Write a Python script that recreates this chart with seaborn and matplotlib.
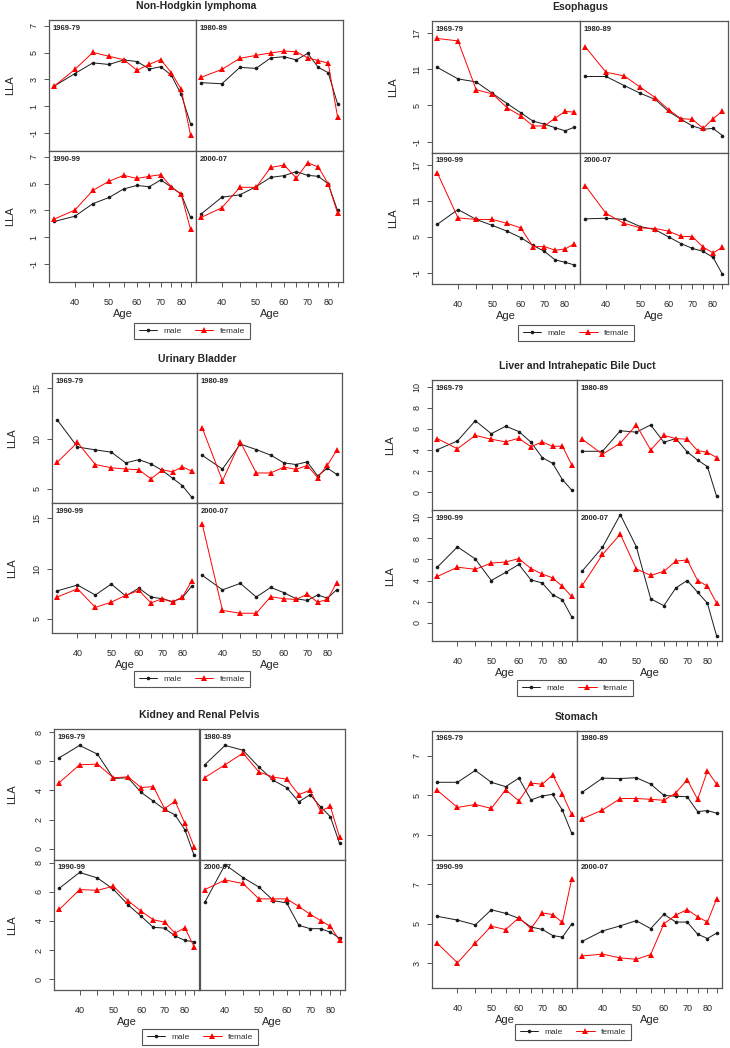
import matplotlib
matplotlib.use('Agg')
import matplotlib.pyplot as plt
from matplotlib.lines import Line2D
import seaborn as sns

sns.set_style('white')
plt.rcParams['font.family'] = ['Liberation Sans', 'DejaVu Sans']

# Age groups (plotted on a log axis) and periods
ages = [35, 40, 45, 50, 55, 60, 65, 70, 75, 80, 85]
age_ticks = [40, 45, 50, 55, 60, 65, 70, 75, 80, 85]
age_labels = ['40', '', '50', '', '60', '', '70', '', '80', '']
periods = ['1969-79', '1980-89', '1990-99', '2000-07']

# LLA values, one row per period
nhl_male = [
    [2.51, 3.44, 4.24, 4.12, 4.46, 4.34, 3.78, 3.95, 3.32, 1.88, -0.29],
    [2.76, 2.68, 3.90, 3.83, 4.61, 4.70, 4.46, 4.95, 3.90, 3.51, 1.19],
    [2.18, 2.57, 3.51, 3.97, 4.61, 4.87, 4.77, 5.28, 4.75, 4.22, 2.49],
    [2.75, 3.99, 4.17, 4.78, 5.47, 5.60, 5.90, 5.62, 5.55, 4.99, 3.00],
]
nhl_female = [
    [2.51, 3.75, 5.02, 4.73, 4.48, 3.68, 4.14, 4.48, 3.51, 2.27, -1.15],
    [3.17, 3.75, 4.58, 4.80, 4.98, 5.12, 5.07, 4.61, 4.41, 4.22, 0.22],
    [2.36, 3.03, 4.50, 5.19, 5.62, 5.39, 5.55, 5.67, 4.75, 4.20, 1.59],
    [2.49, 3.20, 4.73, 4.73, 6.21, 6.39, 5.42, 6.57, 6.24, 4.99, 2.82],
]

esoph_male = [
    [11.3, 9.4, 8.9, 7.0, 5.3, 3.8, 2.4, 1.9, 1.3, 0.8, 1.4],
    [9.8, 9.8, 8.3, 7.0, 6.0, 4.0, 2.7, 1.6, 1.05, 1.2, 0.0],
    [7.1, 9.55, 7.9, 6.9, 5.95, 4.9, 3.6, 2.6, 1.2, 0.8, 0.35],
    [8.0, 8.1, 7.9, 6.7, 6.2, 5.0, 3.9, 3.1, 2.6, 1.6, -1.2],
]
esoph_female = [
    [16.1, 15.7, 7.6, 6.9, 4.6, 3.3, 1.6, 1.6, 2.9, 4.0, 3.9],
    [14.7, 10.5, 9.9, 8.0, 6.3, 4.3, 2.8, 2.7, 1.2, 2.8, 4.1],
    [15.6, 8.15, 7.9, 7.9, 7.25, 6.5, 3.4, 3.4, 2.8, 3.0, 3.9],
    [13.5, 8.9, 7.25, 6.5, 6.4, 5.95, 5.1, 5.05, 3.3, 2.35, 3.3],
]

bladder_male = [
    [11.84, 9.16, 8.87, 8.65, 7.58, 7.90, 7.48, 6.84, 6.06, 5.32, 4.19],
    [8.32, 6.97, 9.45, 8.90, 8.35, 7.58, 7.42, 7.68, 6.29, 7.06, 6.45],
    [7.78, 8.36, 7.37, 8.46, 7.27, 8.05, 7.17, 7.00, 6.72, 7.10, 8.23],
    [9.32, 7.88, 8.53, 7.17, 8.12, 7.61, 7.00, 6.83, 7.37, 7.06, 7.88],
]
bladder_female = [
    [7.65, 9.61, 7.42, 7.10, 6.97, 6.90, 6.00, 6.87, 6.71, 7.19, 6.77],
    [11.03, 5.81, 9.68, 6.58, 6.58, 7.16, 6.94, 7.32, 6.13, 7.35, 8.81],
    [7.17, 7.99, 6.14, 6.66, 7.34, 7.82, 6.59, 7.00, 6.66, 7.17, 8.74],
    [14.39, 5.84, 5.56, 5.56, 7.20, 7.00, 6.93, 7.44, 6.66, 6.93, 8.57],
]

liver_male = [
    [4.03, 4.86, 6.77, 5.54, 6.25, 5.75, 4.74, 3.29, 2.74, 1.20, 0.22],
    [3.88, 3.88, 5.82, 5.69, 6.37, 4.74, 5.08, 3.82, 3.05, 2.43, -0.37],
    [5.26, 7.18, 6.04, 4.00, 4.77, 5.52, 4.06, 3.77, 2.66, 2.18, 0.58],
    [4.90, 7.14, 10.23, 7.21, 2.27, 1.62, 3.31, 4.00, 2.89, 1.85, -1.23],
]
liver_female = [
    [5.08, 4.12, 5.38, 5.02, 4.77, 5.11, 4.31, 4.77, 4.34, 4.37, 2.62],
    [5.02, 3.60, 4.65, 6.37, 4.00, 5.38, 5.08, 5.02, 3.94, 3.78, 3.29],
    [4.38, 5.26, 5.06, 5.65, 5.75, 6.07, 5.13, 4.61, 4.25, 3.44, 2.50],
    [3.54, 6.46, 8.38, 5.10, 4.48, 4.87, 5.84, 5.94, 4.00, 3.47, 1.88],
]

kidney_male = [
    [6.25, 7.10, 6.50, 4.83, 4.87, 3.87, 3.26, 2.70, 2.32, 1.30, -0.45],
    [5.77, 7.10, 6.77, 5.61, 4.69, 4.20, 3.22, 3.71, 2.88, 2.19, 0.36],
    [6.25, 7.34, 6.96, 6.18, 5.12, 4.32, 3.56, 3.51, 2.97, 2.66, 2.57],
    [5.28, 7.88, 6.99, 6.33, 5.40, 5.24, 3.70, 3.47, 3.47, 3.23, 2.81],
]
kidney_female = [
    [4.54, 5.77, 5.81, 4.87, 4.94, 4.20, 4.27, 2.75, 3.26, 1.74, 0.13],
    [4.89, 5.77, 6.57, 5.27, 4.92, 4.78, 3.71, 4.02, 2.59, 2.90, 0.80],
    [4.79, 6.16, 6.11, 6.39, 5.40, 4.67, 4.08, 3.92, 3.16, 3.54, 2.22],
    [6.16, 6.82, 6.58, 5.52, 5.52, 5.52, 5.00, 4.46, 4.03, 3.63, 2.66],
]

stomach_male = [
    [5.66, 5.66, 6.26, 5.66, 5.44, 5.87, 4.77, 4.97, 5.05, 4.25, 3.10],
    [5.16, 5.87, 5.85, 5.89, 5.57, 5.00, 4.95, 4.93, 4.18, 4.23, 4.10],
    [5.38, 5.19, 4.95, 5.71, 5.53, 5.28, 4.84, 4.72, 4.41, 4.33, 4.98],
    [4.12, 4.64, 4.90, 5.16, 4.76, 5.48, 5.09, 5.09, 4.48, 4.26, 4.53],
]
stomach_female = [
    [5.25, 4.39, 4.54, 4.34, 5.28, 4.72, 5.62, 5.56, 6.03, 5.07, 4.05],
    [3.82, 4.26, 4.84, 4.84, 4.80, 4.75, 5.13, 5.79, 4.80, 6.23, 5.57],
    [4.02, 3.03, 4.03, 4.88, 4.71, 5.31, 4.76, 5.55, 5.47, 5.07, 7.24],
    [3.38, 3.47, 3.28, 3.21, 3.45, 5.00, 5.45, 5.72, 5.36, 5.09, 6.26],
]

W, H = 730, 1048
fig = plt.figure(figsize=(W / 100, H / 100), dpi=100)

MALE_COL = '#1a1a1a'
FEMALE_COL = '#ff0000'
SPINE_COL = '#555555'


def px_axes(l, t, w, h):
    return fig.add_axes([l / W, 1 - (t + h) / H, w / W, h / H])


def draw_chart(title, male, female, box, ylim, yticks, lla_x, legend_xy, show_lla=True):
    l, r, t, b = box
    mx, my = (l + r) / 2, (t + b) / 2
    for k in range(4):
        row, col = divmod(k, 2)
        x0 = l if col == 0 else mx
        y0 = t if row == 0 else my
        ax = px_axes(x0, y0, (r - l) / 2, (b - t) / 2)
        sns.lineplot(x=ages, y=male[k], ax=ax, color=MALE_COL, marker='o',
                     markersize=2.6, markeredgewidth=0, linewidth=0.7)
        sns.lineplot(x=ages, y=female[k], ax=ax, color=FEMALE_COL, marker='^',
                     markersize=4, markeredgewidth=0, linewidth=0.7)
        ax.set_xscale('log')
        ax.set_xlim(33.8, 88.1)
        ax.set_ylim(*ylim)
        ax.set_xticks(age_ticks, labels=age_labels)
        ax.minorticks_off()
        ax.set_yticks(yticks, labels=[str(v) for v in yticks])
        ax.set_xlabel('')
        ax.set_ylabel('')
        for s in ax.spines.values():
            s.set_color(SPINE_COL)
            s.set_linewidth(0.9)
        ax.tick_params(axis='x', direction='out', length=3.5, width=0.7,
                       color=SPINE_COL, labelsize=6.5, pad=8,
                       bottom=(row == 1), labelbottom=(row == 1))
        ax.tick_params(axis='y', direction='out', length=3.5, width=0.7,
                       color=SPINE_COL, labelsize=6.5, pad=4,
                       left=(col == 0), labelleft=(col == 0))
        for lab in ax.get_yticklabels():
            lab.set_rotation(90)
            lab.set_va('center')
        ax.text(0.027, 0.965, periods[k], transform=ax.transAxes,
                fontsize=5.5, fontweight='bold', ha='left', va='top')
        if row == 1:
            cx = (x0 + (r - l) / 4)
            fig.text(cx / W, 1 - (b + 32) / H, 'Age', fontsize=8,
                     ha='center', va='center')
        if col == 0 and show_lla:
            cy = y0 + (b - t) / 4
            fig.text(lla_x / W, 1 - cy / H, 'LLA', fontsize=8, rotation=90,
                     ha='center', va='center')
    fig.text((l + r) / 2 / W, 1 - (t - 14) / H, title, fontsize=7.5,
             fontweight='bold', ha='center', va='center')
    handles = [
        Line2D([], [], color=MALE_COL, marker='o', markersize=2.6,
               markeredgewidth=0, linewidth=0.7),
        Line2D([], [], color=FEMALE_COL, marker='^', markersize=4,
               markeredgewidth=0, linewidth=0.7),
    ]
    leg = fig.legend(handles, ['male', 'female'], loc='center',
                     bbox_to_anchor=(legend_xy[0] / W, 1 - legend_xy[1] / H),
                     ncol=2, fontsize=6, frameon=True, fancybox=False,
                     edgecolor=SPINE_COL, framealpha=1, handlelength=2.2,
                     handletextpad=0.8, columnspacing=1.6, borderpad=0.5)
    leg.get_frame().set_linewidth(0.8)
    for txt in leg.get_texts():
        txt.set_color('#333333')


draw_chart('Non-Hodgkin lymphoma', nhl_male, nhl_female,
           (49, 343, 20, 282), (-2.34, 7.44), [-1, 1, 3, 5, 7], 10, (192, 331))
draw_chart('Esophagus', esoph_male, esoph_female,
           (432, 728, 21, 284), (-2.8, 19.0), [-1, 5, 11, 17], 393, (576, 333))
draw_chart('Urinary Bladder', bladder_male, bladder_female,
           (52, 342, 373, 633), (3.6, 16.5), [5, 10, 15], 12, (192, 679))
draw_chart('Liver and Intrahepatic Bile Duct', liver_male, liver_female,
           (432, 722, 380, 641), (-1.72, 10.62), [0, 2, 4, 6, 8, 10], 390, (575, 688))
draw_chart('Kidney and Renal Pelvis', kidney_male, kidney_female,
           (54, 345, 729, 990), (-0.75, 8.23), [0, 2, 4, 6, 8], 12, (200, 1037))
draw_chart('Stomach', stomach_male, stomach_female,
           (432, 722, 731, 988), (1.76, 8.25), [3, 5, 7], 390, (573, 1032),
           show_lla=False)

fig.savefig('out.png', dpi=100)
